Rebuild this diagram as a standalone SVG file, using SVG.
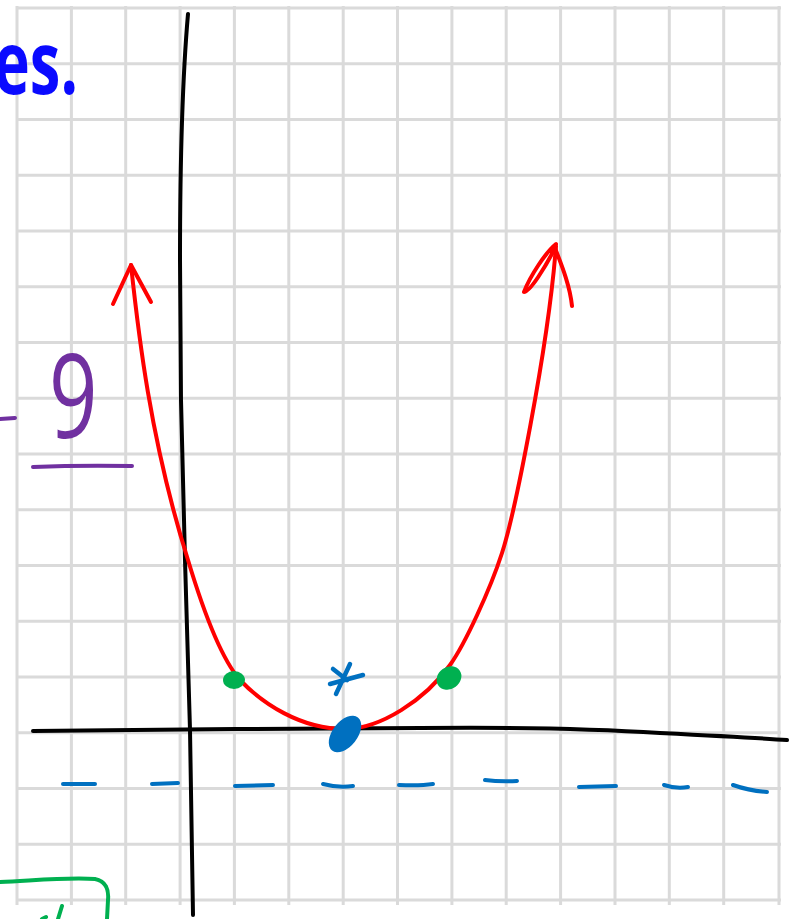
<svg xmlns="http://www.w3.org/2000/svg" width="796" height="919" viewBox="0 0 796 919">
<style>
.grid line{stroke:#dadada;stroke-width:3}
.ink{fill:none;stroke-linecap:round;stroke-linejoin:round}
.axis{stroke:#000;stroke-width:4}
.red{stroke:#ff0000;stroke-width:4}
.blue{stroke:#0070c0;stroke-width:4}
.purple{stroke:#7030a0;stroke-width:4}
.green{stroke:#00b050;stroke-width:4}
</style>
<rect width="796" height="919" fill="#fff"/>
<g id="grid" class="grid">
<line x1="17" y1="6" x2="17" y2="905"/><line x1="71.4" y1="6" x2="71.4" y2="905"/><line x1="125.7" y1="6" x2="125.7" y2="905"/><line x1="180.1" y1="6" x2="180.1" y2="905"/><line x1="234.4" y1="6" x2="234.4" y2="905"/><line x1="288.8" y1="6" x2="288.8" y2="905"/><line x1="343.2" y1="6" x2="343.2" y2="905"/><line x1="397.5" y1="6" x2="397.5" y2="905"/><line x1="451.9" y1="6" x2="451.9" y2="905"/><line x1="506.2" y1="6" x2="506.2" y2="905"/><line x1="560.6" y1="6" x2="560.6" y2="905"/><line x1="615" y1="6" x2="615" y2="905"/><line x1="669.3" y1="6" x2="669.3" y2="905"/><line x1="723.7" y1="6" x2="723.7" y2="905"/><line x1="779" y1="6" x2="779" y2="905"/>
<line x1="16" y1="8" x2="781" y2="8"/><line x1="16" y1="63.75" x2="781" y2="63.75"/><line x1="16" y1="119.5" x2="781" y2="119.5"/><line x1="16" y1="175.25" x2="781" y2="175.25"/><line x1="16" y1="231" x2="781" y2="231"/><line x1="16" y1="286.75" x2="781" y2="286.75"/><line x1="16" y1="342.5" x2="781" y2="342.5"/><line x1="16" y1="398.25" x2="781" y2="398.25"/><line x1="16" y1="454" x2="781" y2="454"/><line x1="16" y1="509.75" x2="781" y2="509.75"/><line x1="16" y1="565.5" x2="781" y2="565.5"/><line x1="16" y1="621.25" x2="781" y2="621.25"/><line x1="16" y1="677" x2="781" y2="677"/><line x1="16" y1="732.75" x2="781" y2="732.75"/><line x1="16" y1="788.5" x2="781" y2="788.5"/><line x1="16" y1="844.25" x2="781" y2="844.25"/><line x1="16" y1="900" x2="781" y2="900"/>
</g>
<g id="title">
<text transform="translate(78,94) scale(0.7,1)" text-anchor="end" font-family="'Open Sans', 'Liberation Sans', Arial, sans-serif" font-weight="bold" font-size="88" fill="#0a0aff">es.</text>
</g>
<g id="directrix" class="ink blue">
<path d="M63,784 L95,784"/><path d="M152,784 L178,783"/><path d="M235,786 L273,785"/><path d="M323,784 Q338,788 353,786"/><path d="M399,785 Q420,786 433,784"/><path d="M485,780 Q500,782 517,781"/><path d="M579,787 L616,786"/><path d="M664,785 Q676,789 688,787"/><path d="M733,785 Q750,791 767,792"/>
</g>
<g id="axes" class="ink axis">
<path d="M188,14 C184,60 180,150 180,260 L181,400 L185,560 L190,730 L193,915"/>
<path d="M33,731 C150,729 300,729 420,728 C520,727 600,729 660,733 C720,736 760,738 787,740"/>
</g>
<g id="parabola" class="ink red">
<path d="M131,265 C138,330 150,440 188,560 C200,600 218,655 240,680 C262,703 300,729 345,729 C380,729 425,700 450,665 C465,644 490,590 502,553 C514,516 548,350 556,246"/>
<path d="M113,304 L131,265 L151,302"/>
<path d="M556,244 C546,252 530,276 524,292 C530,292 546,266 555,248 C562,266 570,286 572,306"/>
</g>
<g id="points">
<ellipse cx="234" cy="680" rx="11" ry="9" fill="#00b050"/>
<ellipse cx="449" cy="678" rx="13" ry="11" transform="rotate(-35 449 678)" fill="#00b050"/>
<ellipse cx="345" cy="734" rx="21" ry="12.5" transform="rotate(-52 345 734)" fill="#0070c0"/>
<g class="ink blue" style="stroke-width:4.5">
<path d="M350,664 L336,694"/><path d="M330,684 L363,675"/><path d="M333,669 L347,680"/>
</g>
</g>
<g id="annotation">
<text transform="translate(49,438) scale(0.72,1)" font-family="'Open Sans', 'DejaVu Sans', sans-serif" font-size="118" fill="#7030a0">9</text>
<g class="ink purple">
<path d="M33,467 Q80,465 132,466"/>
<path d="M0,419 L15,418"/>
</g>
<g class="ink green">
<path d="M0,882 C40,880 70,877 95,879 C106,881 109,890 108,900 L107,919"/>
<path d="M62,906 L58,919"/>
<path d="M42,919 L46,917"/>
</g>
</g>
</svg>
